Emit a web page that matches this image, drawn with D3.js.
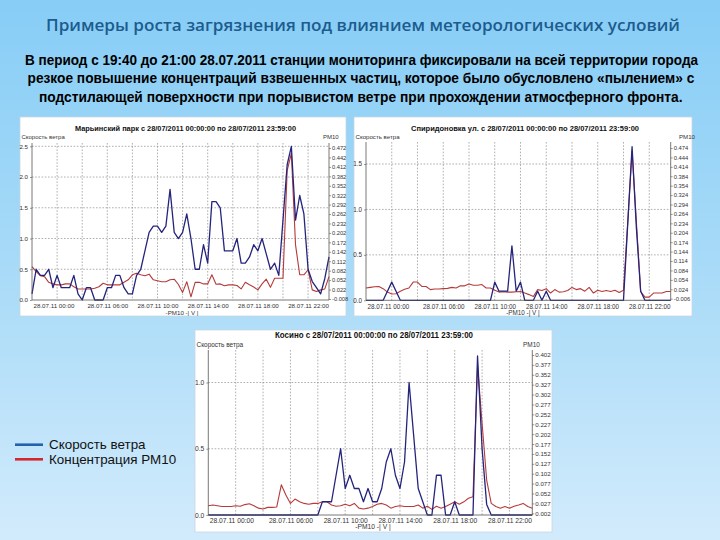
<!DOCTYPE html>
<html>
<head>
<meta charset="utf-8">
<script src="https://cdn.jsdelivr.net/npm/d3@7"></script>
<style>
  html, body { margin: 0; padding: 0; }
  body { width: 720px; height: 540px; overflow: hidden; }
  svg { display: block; }
</style>
</head>
<body>
<svg id="slide" width="720" height="540"></svg>
<script>
// ---------------- DATA ----------------
// 20-minute samples, 28.07.2011 00:00 ... 23:40 (72 per series)
const windMaryino = [
  0.1, 0.5, 0.4, 0.4, 0.5, 0.2, 0.4, 0.2, 0.2, 0.2,
  0.4, 0.1, 0.0, 0.2, 0.2, 0.0, 0.0, 0.0, 0.2, 0.2,
  0.4, 0.4, 0.2, 0.1, 0.1, 0.4, 0.5, 0.8, 1.1, 1.2,
  1.2, 1.1, 1.2, 1.8, 1.1, 1.0, 1.1, 1.4, 1.0, 0.5,
  0.5, 0.9, 0.6, 1.6, 1.6, 1.5, 0.8, 0.8, 0.8, 1.0,
  0.6, 0.6, 0.7, 0.9, 0.8, 1.0, 0.75, 0.5, 0.6, 0.4,
  1.3, 2.2, 2.5, 1.3, 1.7, 1.4, 0.5, 0.3, 0.2, 0.1,
  0.35, 0.7
];
const pm10Maryino = [
  0.095, 0.079, 0.066, 0.063, 0.045, 0.040, 0.037, 0.037, 0.040, 0.040,
  0.031, 0.024, 0.024, 0.024, 0.024, 0.026, 0.031, 0.042, 0.037, 0.037,
  0.037, 0.037, 0.045, 0.053, 0.069, 0.074, 0.069, 0.066, 0.071, 0.053,
  0.050, 0.047, 0.047, 0.053, 0.055, 0.038, 0.013, 0.047, -0.001, 0.045,
  0.045, 0.040, 0.040, 0.069, 0.039, 0.040, 0.034, 0.037, 0.037, 0.035,
  0.024, 0.045, 0.037, 0.030, 0.021, 0.040, 0.055, 0.029, 0.058, 0.058,
  0.058, 0.400, 0.455, 0.164, 0.069, 0.069, 0.085, 0.021, 0.016, 0.021,
  0.024, 0.063
];
const windSpiridonovka = [
  0, 0, 0, 0, 0, 0.1, 0.2, 0.1, 0, 0,
  0, 0, 0, 0, 0, 0, 0, 0, 0, 0,
  0, 0, 0, 0, 0, 0, 0, 0, 0, 0,
  0.2, 0.1, 0.1, 0.1, 0.6, 0.1, 0.2, 0, 0, 0,
  0.1, 0, 0.1, 0, 0, 0, 0, 0, 0, 0,
  0, 0, 0, 0, 0, 0, 0, 0, 0, 0,
  0, 0.85, 1.69, 0.8, 0.1, 0, 0, 0, 0, 0,
  0, 0
];
const pm10Spiridonovka = [
  0.028, 0.030, 0.032, 0.033, 0.026, 0.015, 0.009, 0.010, 0.018, 0.024,
  0.028, 0.047, 0.047, 0.033, 0.033, 0.023, 0.025, 0.025, 0.026, 0.027,
  0.030, 0.028, 0.035, 0.035, 0.041, 0.037, 0.037, 0.039, 0.028, 0.028,
  0.021, 0.015, 0.016, 0.015, 0.015, 0.016, 0.017, 0.012, 0.007, 0.001,
  0.023, 0.020, 0.026, 0.012, 0.023, 0.015, 0.016, 0.020, 0.030, 0.023,
  0.026, 0.018, 0.030, 0.012, 0.021, 0.017, 0.020, 0.017, 0.021, 0.014,
  0.021, 0.240, 0.464, 0.240, 0.017, -0.001, -0.001, 0.012, 0.012, 0.012,
  0.017, 0.017
];
const windKosino = [
  0, 0, 0, 0, 0, 0, 0, 0, 0, 0,
  0, 0, 0, 0, 0, 0, 0, 0, 0, 0,
  0, 0, 0, 0, 0, 0.1, 0.1, 0.1, 0.3, 0.5,
  0.2, 0.3, 0.2, 0.2, 0.1, 0.2, 0.1, 0.1, 0.2, 0.4,
  0.5, 0.3, 0.2, 0.4, 1.0, 0.6, 0.2, 0.1, 0, 0,
  0.3, 0.3, 0, 0, 0.1, 0, 0, 0, 0, 1.2,
  0.5, 0.08, 0, 0, 0, 0, 0, 0, 0, 0,
  0, 0
];
const pm10Kosino = [
  0.021, 0.023, 0.021, 0.019, 0.019, 0.019, 0.021, 0.020, 0.024, 0.026,
  0.021, 0.015, 0.013, 0.017, 0.017, 0.018, 0.074, 0.048, 0.027, 0.038,
  0.031, 0.027, 0.025, 0.027, 0.027, 0.031, 0.031, 0.023, 0.020, 0.021,
  0.025, 0.021, 0.027, 0.015, 0.013, 0.015, 0.019, 0.025, 0.027, 0.023,
  0.015, 0.019, 0.021, 0.019, 0.019, 0.019, 0.023, 0.015, 0.020, 0.012,
  0.020, 0.015, 0.019, 0.025, 0.031, 0.025, 0.031, 0.040, 0.044, 0.375,
  0.229, 0.086, 0.027, 0.019, 0.015, 0.019, 0.015, 0.020, 0.023, 0.027,
  0.019, 0.015
];

// time axis (sample index of each label / grid line)
const timeLabels = ["28.07.11 00:00", "28.07.11 06:00", "28.07.11 10:00",
                    "28.07.11 14:00", "28.07.11 18:00", "28.07.11 22:00"];
const timeLabelSamples = [0, 18, 30, 42, 54, 66];
const gridSamples = [6, 12, 18, 24, 30, 36, 42, 48, 54, 60, 66];

// axis ticks
const windTicksMaryino = [0, 0.5, 1.0, 1.5, 2.0, 2.5];
const windTicksSpiridonovka = [0, 0.5, 1.0, 1.5];
const windTicksKosino = [0, 0.5, 1.0];
const pmTicksMaryino = [-0.008, 0.022, 0.052, 0.082, 0.112, 0.142, 0.172, 0.202, 0.232,
                        0.262, 0.292, 0.322, 0.352, 0.382, 0.412, 0.442, 0.472];
const pmTicksSpiridonovka = [-0.006, 0.024, 0.054, 0.084, 0.114, 0.144, 0.174, 0.204, 0.234,
                             0.264, 0.294, 0.324, 0.354, 0.384, 0.414, 0.444, 0.474];
const pmTicksKosino = [0.002, 0.027, 0.052, 0.077, 0.102, 0.127, 0.152, 0.177, 0.202,
                       0.227, 0.252, 0.277, 0.302, 0.327, 0.352, 0.377, 0.402];

// texts
const slideTitle = "Примеры роста загрязнения под влиянием метеорологических условий";
const slideText = [
  "В период с 19:40 до 21:00 28.07.2011 станции мониторинга фиксировали на всей территории города",
  "резкое повышение концентраций взвешенных частиц, которое было обусловлено «пылением» с",
  "подстилающей поверхности при порывистом ветре при прохождении атмосферного фронта."
];
const chartTitles = [
  "Марьинский парк с 28/07/2011 00:00:00 по 28/07/2011 23:59:00",
  "Спиридоновка ул. с 28/07/2011 00:00:00 по 28/07/2011 23:59:00",
  "Косино с 28/07/2011 00:00:00 по 28/07/2011 23:59:00"
];
const legendLabels = ["Скорость ветра", "Концентрация PM10"];

// ---------------- DRAWING ----------------
const svg = d3.select("#slide");
const defs = svg.append("defs");
const grad = defs.append("linearGradient").attr("id", "bg")
  .attr("x1", 0).attr("y1", 0).attr("x2", 0).attr("y2", 1);
grad.append("stop").attr("offset", "0%").attr("stop-color", "#87cdf6");
grad.append("stop").attr("offset", "55%").attr("stop-color", "#acdcf8");
grad.append("stop").attr("offset", "100%").attr("stop-color", "#d2ebfc");
svg.append("rect").attr("width", 720).attr("height", 540).attr("fill", "url(#bg)");

// slide title
svg.append("text")
  .attr("x", 46).attr("y", 30.7)
  .attr("textLength", 634).attr("lengthAdjust", "spacingAndGlyphs")
  .style("font-family", "'Open Sans', 'DejaVu Sans', sans-serif")
  .style("font-weight", 600).style("font-size", "16px")
  .attr("fill", "#1c5c8e")
  .text(slideTitle);

// subtitle: fit each line into its measured width
const textBoxes = [
  {x: 25, y: 64.5, w: 674},
  {x: 27.5, y: 83, w: 667},
  {x: 39, y: 101.5, w: 644}
];
slideText.forEach((t, i) => {
  const el = svg.append("text")
    .attr("x", textBoxes[i].x).attr("y", textBoxes[i].y)
    .style("font-family", "'Liberation Sans Narrow', 'Liberation Sans', Arial, sans-serif")
    .style("font-weight", 700).style("font-size", "14px")
    .attr("fill", "#000")
    .text(t);
  const natural = el.node().getComputedTextLength();
  const k = textBoxes[i].w / natural;
  el.attr("x", 0).attr("y", 0)
    .attr("transform", `translate(${textBoxes[i].x},${textBoxes[i].y}) scale(${k},1)`);
});

const panels = [
  {
    title: chartTitles[0], wind: windMaryino, pm: pm10Maryino,
    windTicks: windTicksMaryino, pmTicks: pmTicksMaryino,
    box: {x: 20, y: 117, w: 326, h: 199},
    plot: {left: 32, right: 329, top: 143, bottom: 300},
    windDomain: [0, 2.5], windRange: [300, 146.3],
    pmDomain: [-0.008, 0.472], pmRange: [299, 148],
    titleX: 75, titleY: 131, titleW: 221,
    capY: 138.5, pmLabelX: 323,
    xLabelY: 308.3, unitX: 182, unitY: 314.5, fs: 1
  },
  {
    title: chartTitles[1], wind: windSpiridonovka, pm: pm10Spiridonovka,
    windTicks: windTicksSpiridonovka, pmTicks: pmTicksSpiridonovka,
    box: {x: 354, y: 117, w: 338, h: 199},
    plot: {left: 366, right: 670.7, top: 142, bottom: 300.3},
    windDomain: [0, 1.5], windRange: [300.3, 164],
    pmDomain: [-0.006, 0.474], pmRange: [298.7, 148],
    titleX: 411, titleY: 131.3, titleW: 228,
    capY: 138.5, pmLabelX: 679,
    xLabelY: 309, unitX: 523, unitY: 315, fs: 1.02
  },
  {
    title: chartTitles[2], wind: windKosino, pm: pm10Kosino,
    windTicks: windTicksKosino, pmTicks: pmTicksKosino,
    box: {x: 195, y: 330, w: 357, h: 202},
    plot: {left: 208.3, right: 532.3, top: 350, bottom: 515},
    windDomain: [0, 1.0], windRange: [515, 382.5],
    pmDomain: [0.002, 0.402], pmRange: [513.3, 355],
    titleX: 275, titleY: 338.3, titleW: 198,
    capY: 346.8, pmLabelX: 523,
    xLabelY: 522.8, unitX: 373, unitY: 529, fs: 1.08
  }
];

const windColor = "#25247c";
const pmColor = "#b53b3b";
const tickFont = "'Liberation Sans', Arial, sans-serif";

panels.forEach(p => {
  const g = svg.append("g");
  const fs = p.fs;
  g.append("rect")
    .attr("x", p.box.x).attr("y", p.box.y).attr("width", p.box.w).attr("height", p.box.h)
    .attr("fill", "#ffffff").attr("stroke", "#c9d6df").attr("stroke-width", 0.8);

  const x = d3.scaleLinear().domain([0, p.wind.length - 1]).range([p.plot.left, p.plot.right]);
  const yW = d3.scaleLinear().domain(p.windDomain).range(p.windRange);
  const yP = d3.scaleLinear().domain(p.pmDomain).range(p.pmRange);

  // grid
  g.append("g").selectAll("line").data(gridSamples).join("line")
    .attr("x1", d => x(d)).attr("x2", d => x(d))
    .attr("y1", p.plot.top).attr("y2", p.plot.bottom)
    .attr("stroke", "#7a7a7a").attr("stroke-width", 0.6).attr("stroke-dasharray", "1.6,1.6");
  g.append("g").selectAll("line").data(p.windTicks.filter(d => d > 0)).join("line")
    .attr("x1", p.plot.left).attr("x2", p.plot.right)
    .attr("y1", d => yW(d)).attr("y2", d => yW(d))
    .attr("stroke", "#7a7a7a").attr("stroke-width", 0.6).attr("stroke-dasharray", "1.6,1.6");

  // lines
  const lineP = d3.line().x((d, i) => x(i)).y(d => yP(d));
  const lineW = d3.line().x((d, i) => x(i)).y(d => yW(d));
  g.append("path").datum(p.pm).attr("d", lineP)
    .attr("fill", "none").attr("stroke", pmColor).attr("stroke-width", 1.1)
    .attr("stroke-linejoin", "round");
  g.append("path").datum(p.wind).attr("d", lineW)
    .attr("fill", "none").attr("stroke", windColor).attr("stroke-width", 1.3)
    .attr("stroke-linejoin", "round");

  // left axis
  const axL = g.append("g").attr("transform", `translate(${p.plot.left},0)`)
    .call(d3.axisLeft(yW).tickValues(p.windTicks).tickFormat(d => d.toFixed(1))
      .tickSize(2).tickPadding(2));
  axL.select(".domain").attr("d", `M0,${p.plot.top}V${p.plot.bottom}`);
  // right axis
  const axR = g.append("g").attr("transform", `translate(${p.plot.right},0)`)
    .call(d3.axisRight(yP).tickValues(p.pmTicks).tickFormat(d => d.toFixed(3))
      .tickSize(2).tickPadding(1));
  axR.select(".domain").attr("d", `M0,${p.plot.top}V${p.plot.bottom}`);
  // bottom axis
  const axB = g.append("g").attr("transform", `translate(0,${p.plot.bottom})`)
    .call(d3.axisBottom(x).tickValues(timeLabelSamples).tickFormat((d, i) => timeLabels[i])
      .tickSize(0).tickPadding(0));
  axB.select(".domain").attr("d", `M${p.plot.left},0H${p.plot.right}`);

  [axL, axR, axB].forEach(a => {
    a.selectAll(".domain").attr("stroke", "#555").attr("stroke-width", 0.8);
    a.selectAll(".tick line").attr("stroke", "#555").attr("stroke-width", 0.6);
    a.selectAll("text").attr("fill", "#333").style("font-family", tickFont);
  });
  axL.selectAll("text").style("font-size", (6.2 * fs) + "px").attr("dy", "0.3em");
  axR.selectAll("text").style("font-size", (5.7 * fs) + "px").attr("dy", "0.32em");
  axB.selectAll("text").style("font-size", (6.2 * fs) + "px")
    .attr("dy", 0).attr("y", p.xLabelY - p.plot.bottom);
  axB.selectAll(".tick").filter(d => d === 0).select("text")
    .attr("text-anchor", "start").attr("x", 1);

  // labels
  g.append("text").attr("x", p.titleX).attr("y", p.titleY)
    .attr("textLength", p.titleW).attr("lengthAdjust", "spacingAndGlyphs")
    .style("font-family", tickFont).style("font-weight", 700).style("font-size", (7.6 * fs) + "px")
    .attr("fill", "#111").text(p.title);
  g.append("text").attr("x", p.box.x + 1.5).attr("y", p.capY)
    .style("font-family", tickFont).style("font-size", (6 * fs) + "px")
    .attr("fill", "#333").text("Скорость ветра");
  g.append("text").attr("x", p.pmLabelX).attr("y", p.capY)
    .style("font-family", tickFont).style("font-size", (6 * fs) + "px")
    .attr("fill", "#333").text("PM10");
  g.append("text").attr("x", p.unitX).attr("y", p.unitY).attr("text-anchor", "middle")
    .style("font-family", tickFont).style("font-size", (6.2 * fs) + "px")
    .attr("fill", "#333").text("-PM10 -| V |");
});

// legend
const legendColors = ["#2363ad", "#d3282a"];
const legendY = [444.7, 459.3];
legendLabels.forEach((t, i) => {
  svg.append("line").attr("x1", 15).attr("x2", 43)
    .attr("y1", legendY[i]).attr("y2", legendY[i])
    .attr("stroke", legendColors[i]).attr("stroke-width", 2.6);
  svg.append("text").attr("x", 49).attr("y", legendY[i] + 4.2)
    .style("font-family", "'Liberation Sans', Arial, sans-serif").style("font-size", "13.4px")
    .attr("fill", "#111").text(t);
});
</script>
</body>
</html>
